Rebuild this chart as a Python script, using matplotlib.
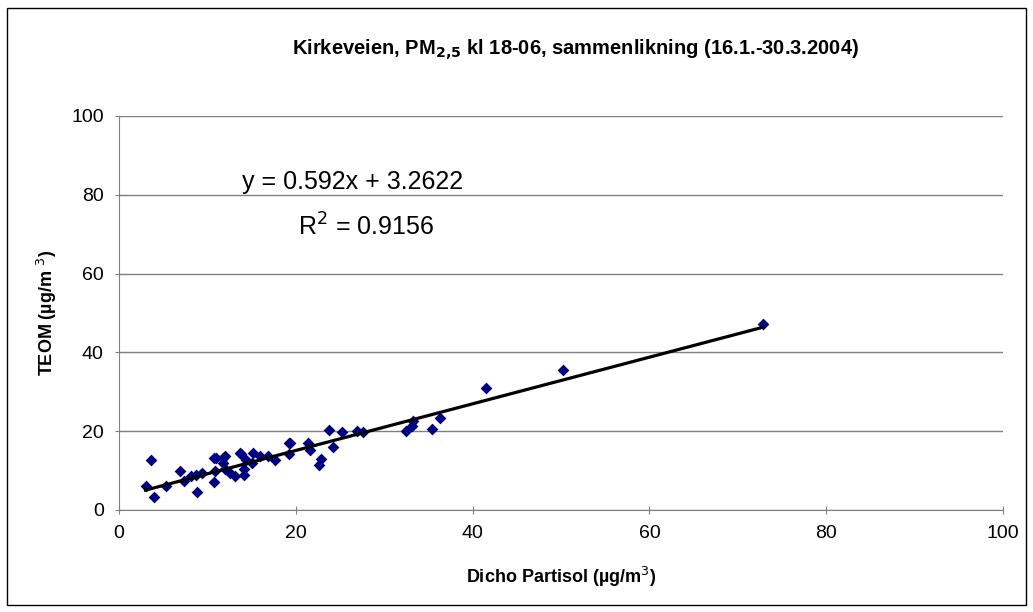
import matplotlib.pyplot as plt
from matplotlib.patches import Rectangle

# Dicho Partisol (x) og TEOM (y), PM2,5 kl 18-06
dicho = [3.0, 3.6, 4.0, 5.35, 6.9, 7.4, 8.2, 8.8, 8.75, 9.35, 10.7, 10.7,
         10.9, 11.0, 11.8, 11.8, 12.0, 12.0, 12.6, 13.1, 13.7, 13.8, 14.1,
         14.1, 14.4, 15.0, 15.2, 16.0, 16.9, 17.6, 19.2, 19.2, 19.3, 21.4,
         21.6, 22.6, 22.8, 23.8, 24.2, 25.2, 26.9, 27.6, 32.5, 33.1, 33.3,
         35.4, 36.3, 41.5, 50.2, 72.9]
teom = [6.2, 12.6, 3.3, 6.0, 9.8, 7.3, 8.7, 4.5, 9.0, 9.4, 13.2, 7.0,
        9.8, 13.2, 12.0, 13.2, 13.6, 10.3, 9.4, 8.6, 14.5, 14.1, 10.3,
        9.0, 12.8, 12.0, 14.5, 13.6, 13.6, 12.8, 17.0, 14.1, 17.0, 17.0,
        15.3, 11.5, 13.0, 20.4, 15.9, 19.8, 20.0, 19.8, 20.0, 21.2, 22.5,
        20.6, 23.4, 31.0, 35.6, 47.3]

# trendlinje
stigning = 0.592
konstant = 3.2622
r2 = 0.9156

plt.rcParams['font.family'] = ['Liberation Sans', 'DejaVu Sans']

fig = plt.figure(figsize=(10.33, 6.12), dpi=100)
ax = fig.add_axes([0.1152, 0.1667, 0.8558, 0.6438])

ax.scatter(dicho, teom, marker='D', s=6 ** 2, color='#000080', zorder=3, linewidths=0)

xmin, xmax = min(dicho), max(dicho)
ax.plot([xmin, xmax], [stigning * xmin + konstant, stigning * xmax + konstant],
        color='black', lw=2.3, zorder=4)

ax.set_xlim(0, 100)
ax.set_ylim(0, 100)
ax.set_xticks(range(0, 101, 20))
ax.set_yticks(range(0, 101, 20))
ax.yaxis.grid(True, color='#808080', lw=1)
ax.set_axisbelow(True)
for s in ['top', 'right']:
    ax.spines[s].set_visible(False)
for s in ['left', 'bottom']:
    ax.spines[s].set_color('#808080')
ax.tick_params(direction='inout', length=6, color='#808080', labelsize=14, pad=8)

ax.set_xlabel('Dicho Partisol (µg/m$^{3}$)', fontsize=13, fontweight='bold')
ax.set_ylabel('TEOM (µg/m $^{3}$)', fontsize=13, fontweight='bold')
ax.xaxis.set_label_coords(0.5, -0.171)
ax.xaxis.label.set_va('center')
ax.yaxis.set_label_coords(-0.0814, 0.5)
ax.yaxis.label.set_va('center')

fig.text(0.557, 0.918, 'Kirkeveien, PM$_{\\mathbf{2{,}5}}$ kl 18-06, sammenlikning (16.1.-30.3.2004)',
         ha='center', va='center', fontsize=14.5, fontweight='bold')

ax.text(26.4, 83.3, 'y = %gx + %g' % (stigning, konstant), ha='center', va='center', fontsize=18)
ax.text(27.9, 71.9, 'R$^{2}$ = %g' % r2, ha='center', va='center', fontsize=18)

# ramme rundt hele diagrammet
fig.patches.append(Rectangle((7 / 1033, 1 - 605 / 612), 1019 / 1033, 597 / 612,
                             transform=fig.transFigure, fill=False, ec='black', lw=1))

fig.savefig('out.png', dpi=100)
